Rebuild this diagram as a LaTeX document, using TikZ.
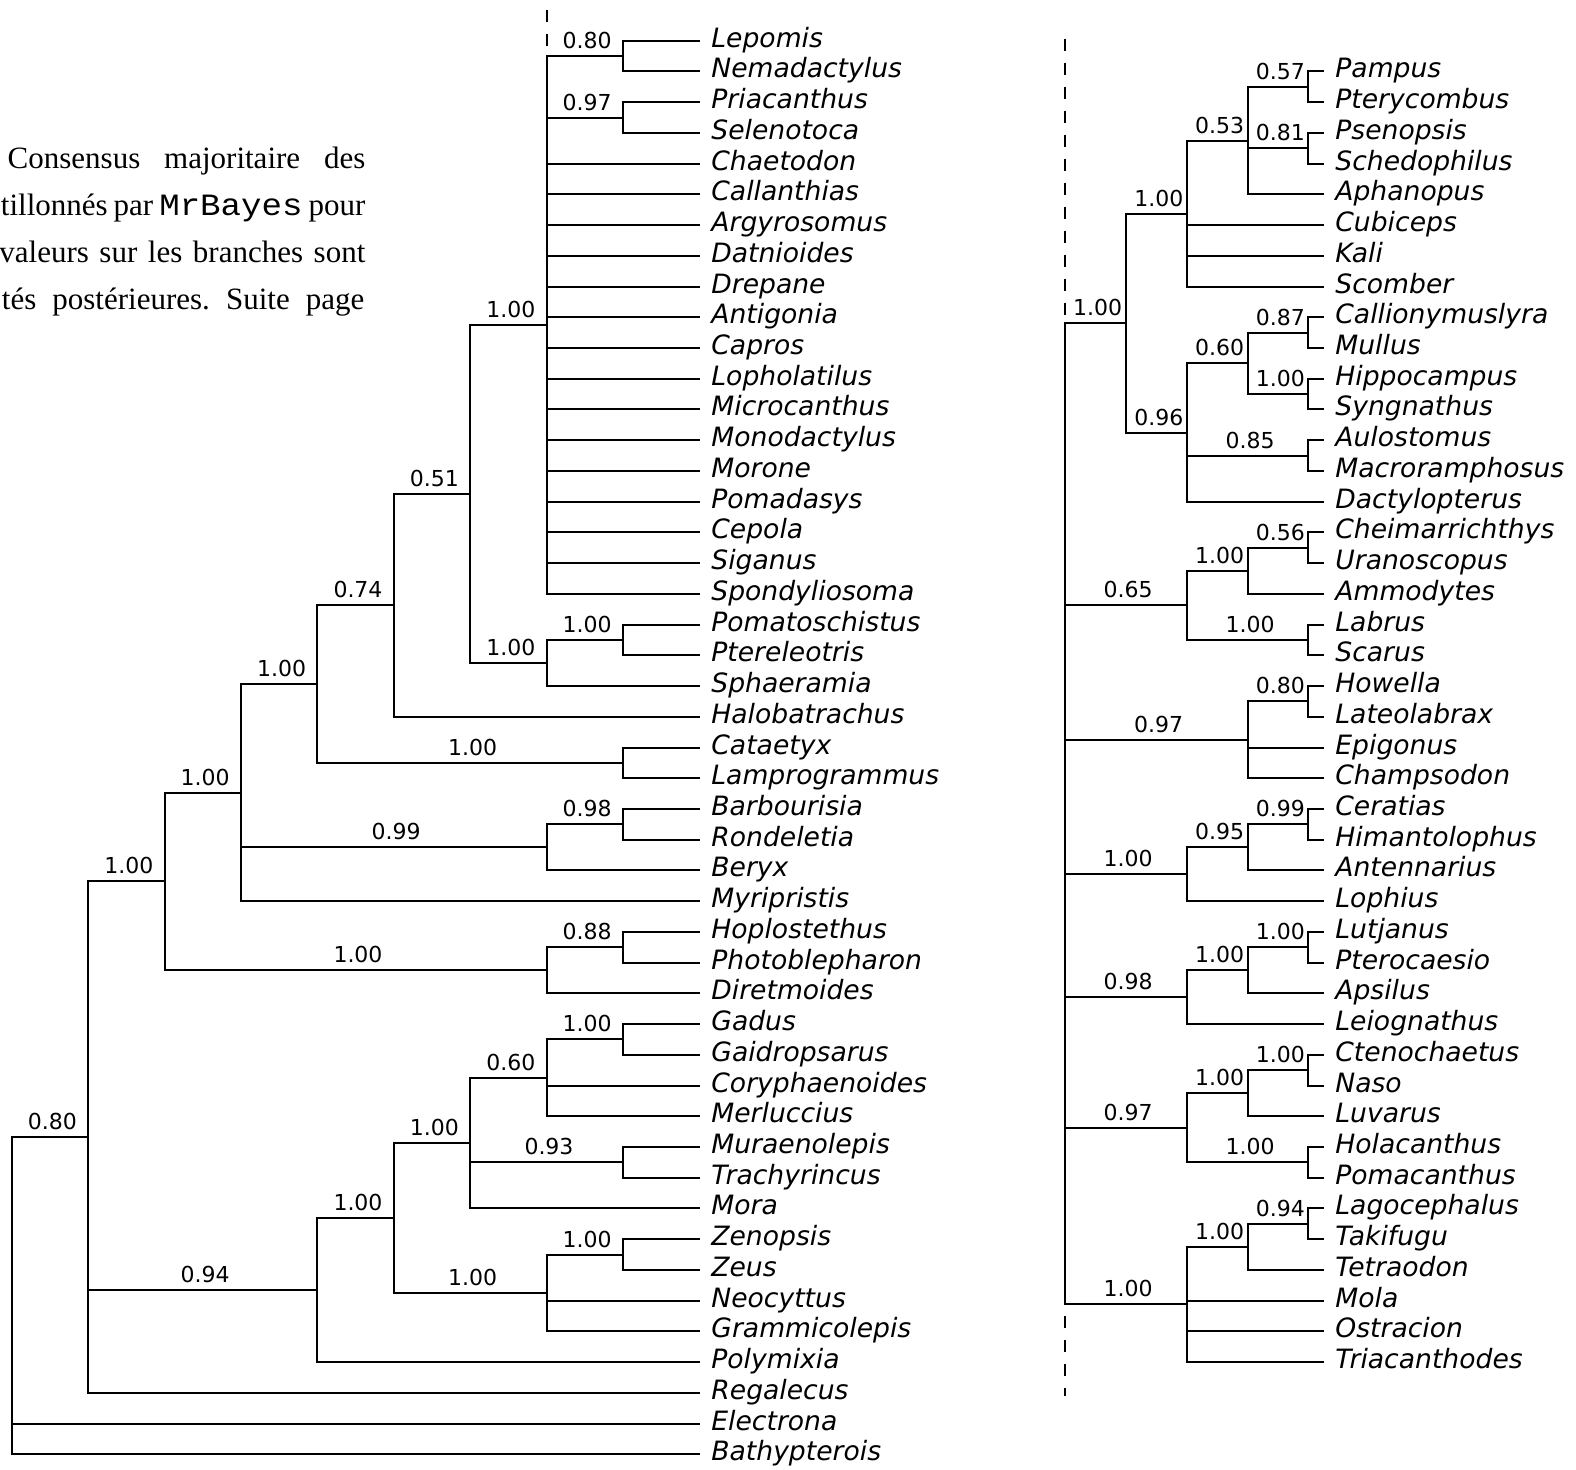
\documentclass[tikz,border=0pt]{standalone}
\usepackage{fontspec}
\setmainfont{DejaVu Sans}
\newfontfamily\capserif{Liberation Serif}
\newfontfamily\capmono[FakeStretch=1.1]{Liberation Mono}
\tikzset{
  br/.style={line width=1pt},
  lf/.style={anchor=base west, inner sep=0pt, xshift=5.5pt, yshift=-3.25pt, font=\fontsize{13.3}{15}\selectfont\itshape},
  pp/.style={pos=.75, anchor=base, inner sep=0pt, xshift=1.25pt, yshift=3.75pt, font=\fontsize{11}{13}\selectfont},
  dashln/.style={line width=1pt, dash pattern=on 6pt off 6pt},
  capl/.style={anchor=base west, inner sep=0pt, font=\capserif\fontsize{15.5}{18}\selectfont\frenchspacing}
}
\newcommand\mkleaf[3]{\coordinate (#1) at (#2,#3); \node[lf] (t#1) at (#1) {#1};}
\newcommand\brl[3]{\draw[br] (#1) |- (#2) node[pp]{#3};}
\newcommand\brn[2]{\draw[br] (#1) |- (#2);}
\begin{document}
\begin{tikzpicture}[x=0.5pt,y=-0.5pt]
\useasboundingbox (0,0) rectangle (1576,1469);
% caption fragment
\node[capl] (cap1) at (7.3,168.3) {\makebox[178.85pt][s]{Consensus majoritaire des}};
\node[capl] (cap2) at (0.5,215.3) {\makebox[182.25pt][s]{tillonnés par {\capmono\fontsize{15.5}{18}\selectfont MrBayes} pour}};
\node[capl] (cap3) at (-1,262.3) {\makebox[183pt][s]{valeurs sur les branches sont}};
\node[capl] (cap4) at (1.5,309.3) {\makebox[181.25pt][s]{tés postérieures. Suite page}};

\begin{scope}[x=0.5pt, y=-15.365pt, yshift=-4.985pt]
% ---------------- left tree leaves
\mkleaf{Lepomis}{700}{1}
\mkleaf{Nemadactylus}{700}{2}
\mkleaf{Priacanthus}{700}{3}
\mkleaf{Selenotoca}{700}{4}
\mkleaf{Chaetodon}{700}{5}
\mkleaf{Callanthias}{700}{6}
\mkleaf{Argyrosomus}{700}{7}
\mkleaf{Datnioides}{700}{8}
\mkleaf{Drepane}{700}{9}
\mkleaf{Antigonia}{700}{10}
\mkleaf{Capros}{700}{11}
\mkleaf{Lopholatilus}{700}{12}
\mkleaf{Microcanthus}{700}{13}
\mkleaf{Monodactylus}{700}{14}
\mkleaf{Morone}{700}{15}
\mkleaf{Pomadasys}{700}{16}
\mkleaf{Cepola}{700}{17}
\mkleaf{Siganus}{700}{18}
\mkleaf{Spondyliosoma}{700}{19}
\mkleaf{Pomatoschistus}{700}{20}
\mkleaf{Ptereleotris}{700}{21}
\mkleaf{Sphaeramia}{700}{22}
\mkleaf{Halobatrachus}{700}{23}
\mkleaf{Cataetyx}{700}{24}
\mkleaf{Lamprogrammus}{700}{25}
\mkleaf{Barbourisia}{700}{26}
\mkleaf{Rondeletia}{700}{27}
\mkleaf{Beryx}{700}{28}
\mkleaf{Myripristis}{700}{29}
\mkleaf{Hoplostethus}{700}{30}
\mkleaf{Photoblepharon}{700}{31}
\mkleaf{Diretmoides}{700}{32}
\mkleaf{Gadus}{700}{33}
\mkleaf{Gaidropsarus}{700}{34}
\mkleaf{Coryphaenoides}{700}{35}
\mkleaf{Merluccius}{700}{36}
\mkleaf{Muraenolepis}{700}{37}
\mkleaf{Trachyrincus}{700}{38}
\mkleaf{Mora}{700}{39}
\mkleaf{Zenopsis}{700}{40}
\mkleaf{Zeus}{700}{41}
\mkleaf{Neocyttus}{700}{42}
\mkleaf{Grammicolepis}{700}{43}
\mkleaf{Polymixia}{700}{44}
\mkleaf{Regalecus}{700}{45}
\mkleaf{Electrona}{700}{46}
\mkleaf{Bathypterois}{700}{47}
% ---------------- left tree internal nodes
\coordinate (lRoot) at (11.7,41.84);
\coordinate (lA) at (88.1,36.6796875);
\coordinate (lB) at (164.5,28.359375);
\coordinate (lK) at (240.9,25.46875);
\coordinate (lN) at (317.3,21.9375);
\coordinate (lR) at (393.7,19.375);
\coordinate (lT) at (470.1,15.75);
\coordinate (lU) at (546.5,10.25);
\coordinate (lW) at (622.9,1.5);
\coordinate (lZ) at (622.9,3.5);
\coordinate (lV) at (546.5,21.25);
\coordinate (lY) at (622.9,20.5);
\coordinate (lS) at (622.9,24.5);
\coordinate (lP) at (546.5,27.25);
\coordinate (lQ) at (622.9,26.5);
\coordinate (lL) at (546.5,31.25);
\coordinate (lM) at (622.9,30.5);
\coordinate (lC) at (317.3,41.65625);
\coordinate (lD) at (393.7,39.3125);
\coordinate (lE) at (470.1,36.875);
\coordinate (lG) at (546.5,34.75);
\coordinate (lI) at (622.9,33.5);
\coordinate (lH) at (622.9,37.5);
\coordinate (lF) at (546.5,41.75);
\coordinate (lJ) at (622.9,40.5);
\coordinate (lTop) at (546.5,0.0);
% ---------------- left tree branches
\brl{lRoot}{lA}{0.80}
\brn{lRoot}{Electrona}
\brn{lRoot}{Bathypterois}
\brl{lA}{lB}{1.00}
\brl{lA}{lC}{0.94}
\brn{lA}{Regalecus}
\brl{lB}{lK}{1.00}
\brl{lB}{lL}{1.00}
\brl{lK}{lN}{1.00}
\brl{lK}{lP}{0.99}
\brn{lK}{Myripristis}
\brl{lN}{lR}{0.74}
\brl{lN}{lS}{1.00}
\brl{lR}{lT}{0.51}
\brn{lR}{Halobatrachus}
\brl{lT}{lU}{1.00}
\brl{lT}{lV}{1.00}
\brl{lU}{lW}{0.80}
\brl{lU}{lZ}{0.97}
\foreach \c in {Chaetodon,Callanthias,Argyrosomus,Datnioides,Drepane,Antigonia,Capros,Lopholatilus,Microcanthus,Monodactylus,Morone,Pomadasys,Cepola,Siganus,Spondyliosoma}{\brn{lU}{\c}}
\brn{lW}{Lepomis}
\brn{lW}{Nemadactylus}
\brn{lZ}{Priacanthus}
\brn{lZ}{Selenotoca}
\brl{lV}{lY}{1.00}
\brn{lV}{Sphaeramia}
\brn{lY}{Pomatoschistus}
\brn{lY}{Ptereleotris}
\brn{lS}{Cataetyx}
\brn{lS}{Lamprogrammus}
\brl{lP}{lQ}{0.98}
\brn{lP}{Beryx}
\brn{lQ}{Barbourisia}
\brn{lQ}{Rondeletia}
\brl{lL}{lM}{0.88}
\brn{lL}{Diretmoides}
\brn{lM}{Hoplostethus}
\brn{lM}{Photoblepharon}
\brl{lC}{lD}{1.00}
\brn{lC}{Polymixia}
\brl{lD}{lE}{1.00}
\brl{lD}{lF}{1.00}
\brl{lE}{lG}{0.60}
\brl{lE}{lH}{0.93}
\brn{lE}{Mora}
\brl{lG}{lI}{1.00}
\brn{lG}{Coryphaenoides}
\brn{lG}{Merluccius}
\brn{lI}{Gadus}
\brn{lI}{Gaidropsarus}
\brn{lH}{Muraenolepis}
\brn{lH}{Trachyrincus}
\brl{lF}{lJ}{1.00}
\brn{lF}{Neocyttus}
\brn{lF}{Grammicolepis}
\brn{lJ}{Zenopsis}
\brn{lJ}{Zeus}
\draw[dashln] (lTop) -- (lU |- lW);

% ---------------- right tree leaves
\mkleaf{Pampus}{1324}{2}
\mkleaf{Pterycombus}{1324}{3}
\mkleaf{Psenopsis}{1324}{4}
\mkleaf{Schedophilus}{1324}{5}
\mkleaf{Aphanopus}{1324}{6}
\mkleaf{Cubiceps}{1324}{7}
\mkleaf{Kali}{1324}{8}
\mkleaf{Scomber}{1324}{9}
\mkleaf{Callionymuslyra}{1324}{10}
\mkleaf{Mullus}{1324}{11}
\mkleaf{Hippocampus}{1324}{12}
\mkleaf{Syngnathus}{1324}{13}
\mkleaf{Aulostomus}{1324}{14}
\mkleaf{Macroramphosus}{1324}{15}
\mkleaf{Dactylopterus}{1324}{16}
\mkleaf{Cheimarrichthys}{1324}{17}
\mkleaf{Uranoscopus}{1324}{18}
\mkleaf{Ammodytes}{1324}{19}
\mkleaf{Labrus}{1324}{20}
\mkleaf{Scarus}{1324}{21}
\mkleaf{Howella}{1324}{22}
\mkleaf{Lateolabrax}{1324}{23}
\mkleaf{Epigonus}{1324}{24}
\mkleaf{Champsodon}{1324}{25}
\mkleaf{Ceratias}{1324}{26}
\mkleaf{Himantolophus}{1324}{27}
\mkleaf{Antennarius}{1324}{28}
\mkleaf{Lophius}{1324}{29}
\mkleaf{Lutjanus}{1324}{30}
\mkleaf{Pterocaesio}{1324}{31}
\mkleaf{Apsilus}{1324}{32}
\mkleaf{Leiognathus}{1324}{33}
\mkleaf{Ctenochaetus}{1324}{34}
\mkleaf{Naso}{1324}{35}
\mkleaf{Luvarus}{1324}{36}
\mkleaf{Holacanthus}{1324}{37}
\mkleaf{Pomacanthus}{1324}{38}
\mkleaf{Lagocephalus}{1324}{39}
\mkleaf{Takifugu}{1324}{40}
\mkleaf{Tetraodon}{1324}{41}
\mkleaf{Mola}{1324}{42}
\mkleaf{Ostracion}{1324}{43}
\mkleaf{Triacanthodes}{1324}{44}
% ---------------- right tree internal nodes
\coordinate (rRoot) at (1064.5,26.15625);
\coordinate (ra) at (1125.8,10.1875);
\coordinate (rb) at (1186.8,6.625);
\coordinate (rd) at (1247.6,4.25);
\coordinate (re) at (1308.3,2.5);
\coordinate (rf) at (1308.3,4.5);
\coordinate (rc) at (1186.8,13.75);
\coordinate (rg) at (1247.6,11.5);
\coordinate (ri) at (1308.3,10.5);
\coordinate (rj) at (1308.3,12.5);
\coordinate (rh) at (1308.3,14.5);
\coordinate (rk) at (1186.8,19.375);
\coordinate (rl) at (1247.6,18.25);
\coordinate (rn) at (1308.3,17.5);
\coordinate (rm) at (1308.3,20.5);
\coordinate (ro) at (1247.6,23.75);
\coordinate (rp) at (1308.3,22.5);
\coordinate (rq) at (1186.8,28.125);
\coordinate (rr) at (1247.6,27.25);
\coordinate (rs) at (1308.3,26.5);
\coordinate (rt) at (1186.8,32.125);
\coordinate (ru) at (1247.6,31.25);
\coordinate (rv) at (1308.3,30.5);
\coordinate (rw) at (1186.8,36.375);
\coordinate (rx) at (1247.6,35.25);
\coordinate (rz) at (1308.3,34.5);
\coordinate (ry) at (1308.3,37.5);
\coordinate (raa) at (1186.8,42.125);
\coordinate (rbb) at (1247.6,40.25);
\coordinate (rcc) at (1308.3,39.5);
\coordinate (rTop) at (1064.5,0.93);
\coordinate (rBot) at (1064.5,45.1);
% ---------------- right tree branches
\brl{rRoot}{ra}{1.00}
\brl{rRoot}{rk}{0.65}
\brl{rRoot}{ro}{0.97}
\brl{rRoot}{rq}{1.00}
\brl{rRoot}{rt}{0.98}
\brl{rRoot}{rw}{0.97}
\brl{rRoot}{raa}{1.00}
\brl{ra}{rb}{1.00}
\brl{ra}{rc}{0.96}
\brl{rb}{rd}{0.53}
\brn{rb}{Cubiceps}
\brn{rb}{Kali}
\brn{rb}{Scomber}
\brl{rd}{re}{0.57}
\brl{rd}{rf}{0.81}
\brn{rd}{Aphanopus}
\brn{re}{Pampus}
\brn{re}{Pterycombus}
\brn{rf}{Psenopsis}
\brn{rf}{Schedophilus}
\brl{rc}{rg}{0.60}
\brl{rc}{rh}{0.85}
\brn{rc}{Dactylopterus}
\brl{rg}{ri}{0.87}
\brl{rg}{rj}{1.00}
\brn{ri}{Callionymuslyra}
\brn{ri}{Mullus}
\brn{rj}{Hippocampus}
\brn{rj}{Syngnathus}
\brn{rh}{Aulostomus}
\brn{rh}{Macroramphosus}
\brl{rk}{rl}{1.00}
\brl{rk}{rm}{1.00}
\brl{rl}{rn}{0.56}
\brn{rl}{Ammodytes}
\brn{rn}{Cheimarrichthys}
\brn{rn}{Uranoscopus}
\brn{rm}{Labrus}
\brn{rm}{Scarus}
\brl{ro}{rp}{0.80}
\brn{ro}{Epigonus}
\brn{ro}{Champsodon}
\brn{rp}{Howella}
\brn{rp}{Lateolabrax}
\brl{rq}{rr}{0.95}
\brn{rq}{Lophius}
\brl{rr}{rs}{0.99}
\brn{rr}{Antennarius}
\brn{rs}{Ceratias}
\brn{rs}{Himantolophus}
\brl{rt}{ru}{1.00}
\brn{rt}{Leiognathus}
\brl{ru}{rv}{1.00}
\brn{ru}{Apsilus}
\brn{rv}{Lutjanus}
\brn{rv}{Pterocaesio}
\brl{rw}{rx}{1.00}
\brl{rw}{ry}{1.00}
\brl{rx}{rz}{1.00}
\brn{rx}{Luvarus}
\brn{rz}{Ctenochaetus}
\brn{rz}{Naso}
\brn{ry}{Holacanthus}
\brn{ry}{Pomacanthus}
\brl{raa}{rbb}{1.00}
\brn{raa}{Mola}
\brn{raa}{Ostracion}
\brn{raa}{Triacanthodes}
\brl{rbb}{rcc}{0.94}
\brn{rbb}{Tetraodon}
\brn{rcc}{Lagocephalus}
\brn{rcc}{Takifugu}
\draw[dashln] (rTop) -- (rRoot |- ra);
\draw[dashln, dash phase=6pt] (rRoot |- raa) -- (rBot);
\end{scope}
\end{tikzpicture}
\end{document}
